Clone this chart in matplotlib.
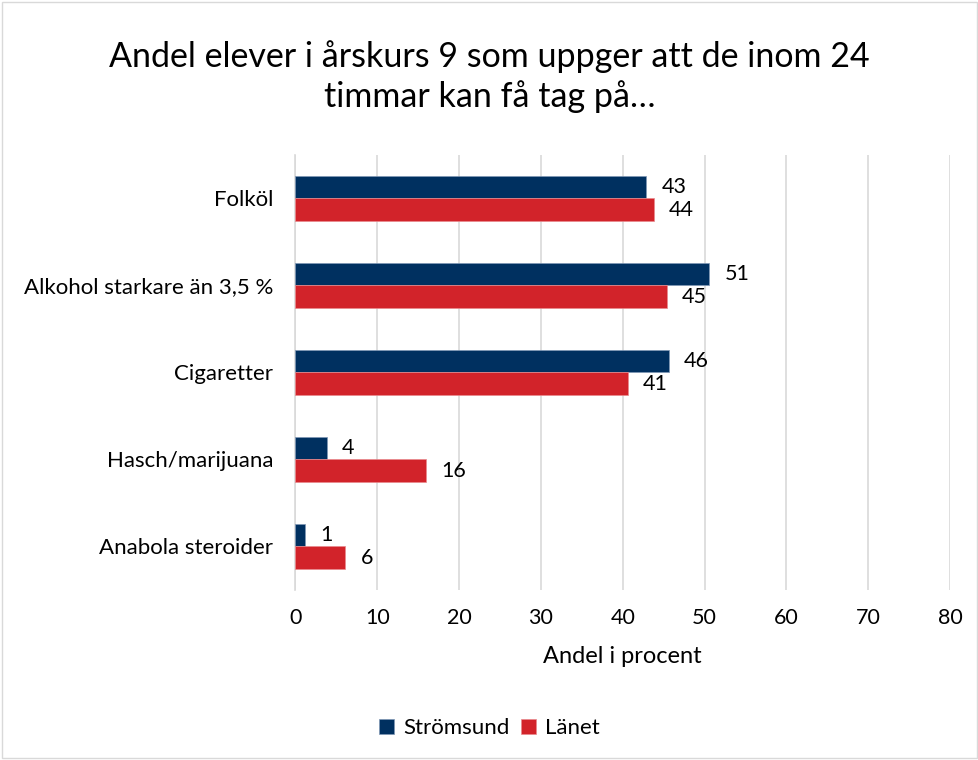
import matplotlib.pyplot as plt
import numpy as np
from matplotlib.patches import Rectangle

plt.rcParams['font.family'] = ['Lato', 'DejaVu Sans']

# Data
categories = ['Folköl', 'Alkohol starkare än 3,5 %', 'Cigaretter', 'Hasch/marijuana', 'Anabola steroider']
stromsund = [42.9, 50.6, 45.6, 3.8, 1.2]
lanet = [43.8, 45.4, 40.6, 15.9, 6.1]
series_names = ['Strömsund', 'Länet']
colors = ['#003060', '#D2232A']
xticks = [0, 10, 20, 30, 40, 50, 60, 70, 80]

fig = plt.figure(figsize=(9.79, 7.6), dpi=100)
ax = fig.add_axes([0.3018, 0.2237, 0.6686, 0.5724])

y = np.arange(len(categories))
h = 0.26
b1 = ax.barh(y - h / 2, stromsund, height=h, color=colors[0], edgecolor='#7f97b5', linewidth=0.5, label=series_names[0], zorder=3)
b2 = ax.barh(y + h / 2, lanet, height=h, color=colors[1], edgecolor='#e88a8e', linewidth=0.5, label=series_names[1], zorder=3)

# etiketter vid staplarnas slut
for bars, vals in ((b1, stromsund), (b2, lanet)):
    for bar, v in zip(bars, vals):
        ax.annotate(f"{v:.0f}", (bar.get_width(), bar.get_y() + bar.get_height() / 2),
                    xytext=(11, 0), textcoords='offset points', va='center', ha='left',
                    fontsize=15.5, color='black')

ax.set_xlim(0, 80)
ax.set_ylim(len(categories) - 0.5, -0.5)
ax.set_xticks(xticks)
ax.set_yticks(y)
ax.set_yticklabels(categories)
ax.tick_params(axis='both', length=0, colors='black')
ax.tick_params(axis='y', pad=16, labelsize=16)
ax.tick_params(axis='x', pad=13, labelsize=15.5)
ax.grid(axis='x', color='#D9D9D9', linewidth=1.2, zorder=0)
for s in ['top', 'right', 'bottom']:
    ax.spines[s].set_visible(False)
ax.spines['left'].set_color('#D9D9D9')
ax.spines['left'].set_linewidth(1.2)
ax.set_xlabel('Andel i procent', fontsize=17, labelpad=13)

fig.suptitle('Andel elever i årskurs 9 som uppger att de inom 24\ntimmar kan få tag på…',
             x=0.5, y=0.947, fontsize=24.5, linespacing=1.25)

fig.legend(handles=[b1, b2], labels=series_names, loc='center', bbox_to_anchor=(0.5, 0.042),
           ncol=2, frameon=False, fontsize=16, handlelength=0.7, handleheight=0.7,
           columnspacing=0.5, handletextpad=0.4)

fig.patches.append(Rectangle((0.002, 0.002), 0.996, 0.996, transform=fig.transFigure,
                             fill=False, edgecolor='#D9D9D9', linewidth=1))

plt.savefig('out.png', dpi=100)
